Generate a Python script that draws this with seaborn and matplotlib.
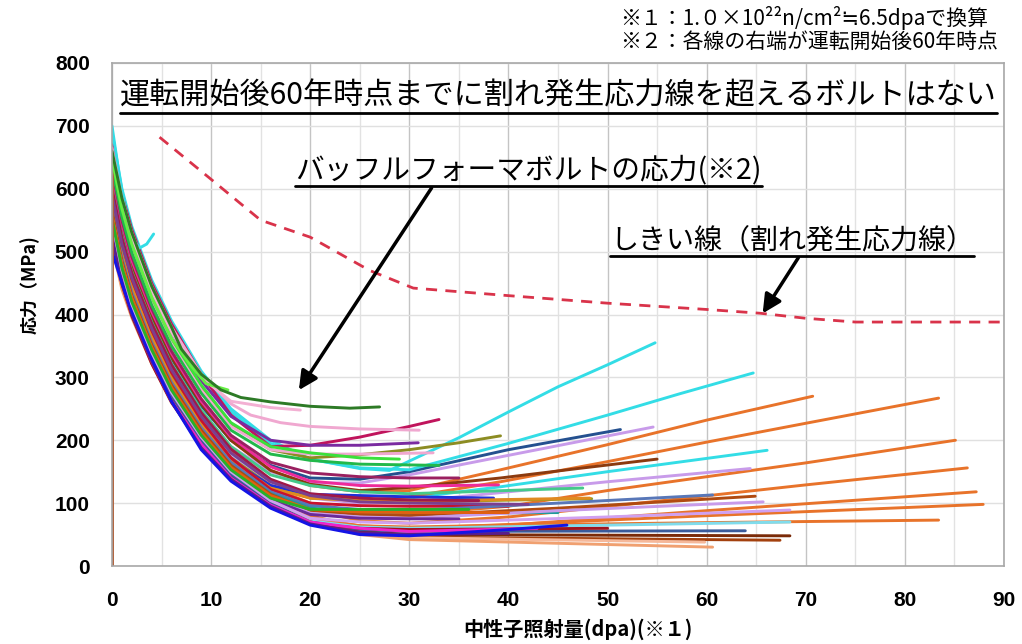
import matplotlib
matplotlib.use('Agg')
import matplotlib.pyplot as plt
from matplotlib.lines import Line2D
from matplotlib import font_manager
import pandas as pd
import seaborn as sns

# common dpa grid for the falling (relaxation) part of each bolt curve
decay_dpa = [0, 1, 2, 4, 6, 9, 12, 16, 20, 25]

# しきい線 (crack initiation stress line)
threshold_dpa = [4.8, 10, 15, 20, 26, 30.4, 40, 50, 60, 65.4, 70, 75, 90]
threshold_mpa = [682, 615, 550, 523, 470, 442, 430, 418, 408, 402, 394, 388, 388]

# (colour, stress on decay_dpa, tail dpa, tail stress)
lower_bolts = [
    ('#80dcec', [535, 458, 406, 330, 267, 197, 143, 100, 72, 62], [30, 50, 68.4], [60, 65, 70]),
    ('#a3400e', [520, 448, 400, 328, 266, 198, 146, 102, 70, 54], [30, 67.4], [46, 41]),
    ('#f5b89a', [515, 444, 398, 325, 264, 196, 144, 101, 70, 52], [30, 59.8], [45, 38]),
    ('#f0a070', [510, 440, 395, 322, 262, 194, 142, 100, 70, 50], [30, 60.6], [42, 30]),
    ('#7a2a08', [540, 462, 408, 332, 269, 198, 144, 99, 68, 55], [30, 68.4], [50, 48]),
    ('#3a5a9a', [545, 466, 412, 335, 272, 200, 146, 100, 70, 58], [30, 63.9], [55, 56]),
    ('#a0141e', [525, 448, 398, 322, 260, 192, 138, 95, 68, 60], [30, 50], [58, 60]),
    ('#ee22cc', [530, 452, 402, 326, 263, 194, 140, 97, 70, 60], [30, 42.9], [55, 60]),
    ('#5a1e8c', [525, 452, 400, 326, 262, 188, 138, 95, 67, 53], [30, 40], [50, 52]),
    ('#1414e6', [500, 450, 405, 330, 262, 185, 135, 92, 65, 50], [30, 40, 45.9], [48, 58, 65]),
]

middle_bolts = [
    ('#8b3a0f', [615, 535, 478, 398, 332, 258, 200, 152, 130, 120], [30, 39.2, 47, 55], [125, 140, 155, 170]),
    ('#44c98a', [605, 525, 468, 388, 322, 248, 190, 145, 128, 118], [30, 47.5], [115, 124]),
    ('#ee2a9a', [625, 545, 486, 405, 338, 262, 205, 158, 135, 128], [30, 39], [127, 129]),
    ('#9a9a20', [585, 505, 448, 368, 302, 228, 172, 128, 108, 105], [30, 48.4], [102, 107]),
    ('#2030d8', [575, 495, 440, 360, 295, 222, 168, 128, 114, 112], [30, 38.5], [110, 108]),
    ('#e08a20', [580, 500, 444, 364, 298, 225, 168, 124, 108, 104], [30, 48.2], [103, 108]),
    ('#c8102e', [595, 515, 456, 375, 308, 232, 172, 122, 100, 96], [30, 40], [95, 95]),
    ('#5877b8', [570, 490, 435, 356, 292, 220, 165, 118, 96, 90], [30, 45, 60.6], [88, 100, 113]),
    ('#1f9a9a', [560, 482, 428, 350, 286, 214, 160, 115, 92, 86], [30, 45], [84, 85]),
    ('#b04a10', [565, 485, 430, 352, 288, 216, 160, 114, 88, 82], [30, 45, 64.9], [80, 92, 111]),
    ('#c89bea', [555, 478, 424, 346, 282, 210, 155, 110, 84, 78], [30, 45, 65.7], [76, 88, 102]),
    ('#6a2a9a', [550, 472, 418, 342, 278, 206, 152, 106, 82, 76], [30, 35], [75, 75]),
    ('#d0a0f0', [548, 470, 416, 340, 276, 205, 150, 104, 76, 70], [30, 50, 68.4], [68, 78, 89]),
    ('#9a2060', [630, 550, 492, 410, 342, 266, 208, 165, 148, 142], [30, 35], [140, 140]),
    ('#e06010', [558, 480, 426, 348, 284, 212, 157, 112, 90, 86], [30, 40], [85, 85]),
    ('#28b028', [552, 474, 420, 344, 280, 208, 153, 108, 90, 90], [30, 36], [90, 90]),
    ('#a01848', [600, 522, 466, 386, 320, 244, 186, 138, 115, 108], [30, 37], [105, 104]),
    ('#7b3f8f', [590, 512, 458, 378, 312, 238, 180, 134, 112, 102], [30, 42], [100, 98]),
]

upper_bolts = [
    ('#c0145c', [670, 590, 535, 450, 385, 305, 240, 190, 192, 205], [30, 33], [222, 233]),
    ('#8c8c22', [645, 565, 510, 425, 360, 285, 225, 185, 172, 177], [30, 35, 39.2], [185, 196, 207]),
    ('#7a2ba0', [660, 578, 520, 438, 372, 295, 238, 200, 192, 192], [30.9], [196]),
    ('#f0a8d0', [640, 560, 505, 420, 356, 280, 222, 185, 178, 178], [32.4], [180]),
    ('#3be03b', [650, 570, 512, 428, 362, 288, 228, 190, 180, 172], [29], [170]),
    ('#22b84a', [635, 555, 498, 415, 350, 275, 216, 178, 168, 162], [33], [160]),
]

# bolts whose stress climbs again far out to the right
fan_bolts = [
    ('#e8732a', [560, 480, 426, 348, 284, 212, 156, 110, 80, 62], [30, 40, 60, 87.2], [58, 65, 88, 118]),
    ('#e8732a', [545, 468, 414, 338, 274, 203, 148, 104, 76, 64], [30, 40, 60, 87.9], [60, 66, 80, 98]),
    ('#e8732a', [540, 462, 410, 334, 270, 200, 146, 102, 74, 64], [30, 40, 60, 83.4], [62, 65, 69, 73]),
    ('#e8732a', [570, 490, 435, 355, 292, 220, 163, 117, 90, 72], [30, 40, 55, 70, 86.3], [68, 78, 103, 129, 156]),
    ('#e8732a', [580, 500, 445, 365, 300, 228, 172, 125, 100, 85], [30, 40, 50, 60, 70, 85.1], [82, 95, 120, 142, 164, 200]),
    ('#c89bea', [590, 510, 452, 372, 306, 232, 175, 130, 108, 100], [30, 40, 50, 64.4], [102, 118, 134, 155]),
    ('#33dde6', [595, 515, 458, 378, 312, 238, 180, 135, 112, 105], [30, 39.2, 50, 66.1], [108, 126, 150, 184]),
    ('#e8732a', [600, 520, 462, 380, 315, 240, 183, 135, 112, 104], [30, 39.2, 50, 60, 70, 83.4], [110, 134, 166, 197, 227, 267]),
    ('#e8732a', [620, 540, 480, 398, 332, 258, 200, 152, 128, 118], [30, 39.2, 50, 60, 70.7], [120, 153, 193, 232, 270]),
    ('#c89bea', [600, 520, 465, 385, 320, 245, 190, 150, 132, 132], [30, 40, 54.6], [145, 176, 221]),
    ('#24508f', [610, 530, 475, 395, 330, 255, 200, 160, 140, 138], [30, 40, 51.3], [150, 185, 217]),
    ('#33dde6', [680, 595, 535, 450, 385, 305, 245, 195, 170, 156], [30, 40, 50, 57.3, 64.7], [153, 195, 240, 274, 307]),
    ('#33dde6', [690, 600, 540, 455, 390, 310, 250, 200, 170, 155], [28, 35, 40, 45, 50, 54.8], [152, 204, 245, 285, 320, 355]),
]

# bolts with their own points (colour, dpa, stress)
special_bolts = [
    ('#b0603a', [0, 0], [0, 650]),
    ('#33dde6', [0, 0.7, 1.4, 2.1, 2.8, 3.5, 4.2], [700, 625, 560, 520, 506, 512, 528]),
    ('#f0a8d0', [0, 1, 2, 4, 6, 9, 12, 14, 17, 20, 25, 31], [665, 585, 530, 445, 380, 305, 258, 240, 228, 222, 218, 216]),
    ('#f3b0d3', [0, 1, 2, 4, 6, 9, 12, 16, 19], [655, 578, 520, 435, 372, 300, 262, 252, 248]),
    ('#66ee44', [0, 1, 2, 4, 6, 8, 9.5, 11.7], [648, 568, 512, 428, 362, 318, 290, 280]),
    ('#2d7a26', [0, 1, 2, 4, 6, 7, 9, 11, 13, 16, 20, 24, 27], [660, 585, 530, 445, 380, 345, 305, 280, 268, 261, 254, 251, 253]),
]

rows = []
colors = {}
n = 0
for group in (fan_bolts, lower_bolts, middle_bolts, upper_bolts):
    for col, ys, tx, ty in group:
        for x, y in zip(decay_dpa + tx, ys + ty):
            rows.append((n, x, y))
        colors[n] = col
        n += 1
for col, xs, ys in special_bolts:
    for x, y in zip(xs, ys):
        rows.append((n, x, y))
    colors[n] = col
    n += 1
df = pd.DataFrame(rows, columns=['bolt', 'dpa', 'stress'])

sns.set_style('white')
plt.rcParams['font.family'] = ['Noto Sans CJK JP', 'DejaVu Sans']
plt.rcParams['text.color'] = 'black'

try:
    font_manager.findfont('Liberation Sans Narrow', fallback_to_default=False)
    num_font = ['Liberation Sans Narrow', 'DejaVu Sans']
except Exception:
    num_font = ['Liberation Sans', 'DejaVu Sans']

fig = plt.figure(figsize=(10.22, 6.44), dpi=100)
W, H = 1022, 644
ax = fig.add_axes([112 / W, 78 / H, 892 / W, 503 / H])

sns.lineplot(data=df, x='dpa', y='stress', hue='bolt', palette=colors,
             estimator=None, sort=False, legend=False, linewidth=2.1, ax=ax)
sns.lineplot(x=threshold_dpa, y=threshold_mpa, color='#d9334a', linewidth=2,
             ax=ax, estimator=None, sort=False)
ax.lines[-1].set_dashes([4, 3])

ax.set_xlim(0, 90)
ax.set_ylim(0, 800)
ax.set_xticks(range(0, 91, 10))
ax.set_xticks(range(5, 90, 10), minor=True)
ax.set_yticks(range(0, 801, 100))
ax.grid(True, which='major', axis='x', color='#c4c4c4', lw=1)
ax.grid(True, which='minor', axis='x', color='#e2e2e2', lw=1)
ax.grid(True, which='major', axis='y', color='#e0e0e0', lw=1)
ax.set_axisbelow(True)
for s in ax.spines.values():
    s.set_color('#a8a8a8')
    s.set_linewidth(1.2)
ax.tick_params(axis='both', which='major', length=4, color='#a8a8a8', labelcolor='black')
ax.tick_params(axis='x', which='minor', length=0)
ax.tick_params(axis='x', pad=14)
ax.tick_params(axis='y', pad=12)
for lab in ax.get_xticklabels() + ax.get_yticklabels():
    lab.set_family(num_font)
    lab.set_fontweight('bold')
    lab.set_fontsize(15)
ax.set_xlabel('')
ax.set_ylabel('')

fig.text(30 / W, 1 - 285 / H, '応力（MPa)', rotation=90, ha='center', va='center',
         fontsize=13, fontweight='bold')
fig.text(578 / W, 1 - 629 / H, '中性子照射量(dpa)(※１)', ha='center', va='center',
         fontsize=14.5, fontweight='bold')

# notes at the top right
fig.text(620 / W, 1 - 18 / H, '※１：1.０×10²²n/cm²≒6.5dpaで換算', ha='left', va='center', fontsize=15)
fig.text(620 / W, 1 - 42 / H, '※２：各線の右端が運転開始後60年時点', ha='left', va='center', fontsize=15)

t1 = fig.text(120 / W, 1 - 96 / H, '運転開始後60年時点までに割れ発生応力線を超えるボルトはない',
              ha='left', va='center', fontsize=21.7)
t2 = fig.text(295 / W, 1 - 170 / H, 'バッフルフォーマボルトの応力(※2)',
              ha='left', va='center', fontsize=20.7)
t3 = fig.text(610 / W, 1 - 240 / H, 'しきい線（割れ発生応力線）',
              ha='left', va='center', fontsize=20.2)

ax.annotate('', xy=(18.7, 276), xytext=(32.4, 605),
            arrowprops=dict(arrowstyle='-|>', color='black', lw=2.5, mutation_scale=28))
ax.annotate('', xy=(65.5, 398), xytext=(69.4, 494),
            arrowprops=dict(arrowstyle='-|>', color='black', lw=2.5, mutation_scale=28))

# underline the three callouts
fig.canvas.draw()
r = fig.canvas.get_renderer()
for t in (t1, t2, t3):
    bb = t.get_window_extent(renderer=r)
    y = bb.y0 - 1
    fig.add_artist(Line2D([bb.x0 / W, bb.x1 / W], [y / H, y / H], color='black', lw=2,
                          transform=fig.transFigure))

fig.savefig('out.png', dpi=100)
